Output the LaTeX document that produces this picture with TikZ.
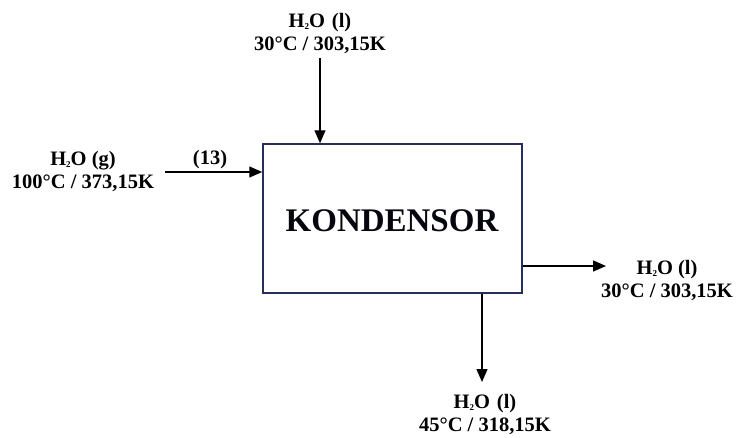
\documentclass[tikz,border=0pt]{standalone}
\usepackage{fontspec}
\setmainfont{Liberation Serif}
\usetikzlibrary{arrows.meta}
\definecolor{boxblue}{RGB}{40,45,95}
\newcommand{\hto}{H\raisebox{-2pt}{\fontsize{9}{9}\selectfont 2}O}
\tikzset{
  lbl/.style={anchor=base, inner sep=0pt, font=\fontsize{20.5}{23}\selectfont\bfseries},
  arr/.style={line width=1.4pt, -{Triangle[length=13pt,width=11pt]}},
  unitbox/.style={draw=boxblue, line width=1.5pt, minimum width=259pt, minimum height=149pt, inner sep=0pt},
}
\begin{document}
\begin{tikzpicture}[x=1pt,y=-1pt]
\useasboundingbox (0,0) rectangle (736,437);
\node[unitbox] (box) at (392.5,218.5) {};
\node[anchor=base, inner sep=0pt, font=\fontsize{33}{36}\selectfont\bfseries, text=black!85!boxblue] (kname) at (392,231) {KONDENSOR};
% top input
\node[lbl] (t1) at (320,27) {\hto\,\,(l)};
\node[lbl] (t2) at (320,50) {30°C / 303,15K};
\coordinate (tin) at (320,58);
\draw[arr] (tin) -- (tin |- box.north);
% left input
\node[lbl] (l1) at (83,165) {\hto\ (g)};
\node[lbl] (l2) at (83,188) {100°C / 373,15K};
\node[lbl] (l3) at (210,164) {(13)};
\coordinate (lin) at (165,172);
\draw[arr] (lin) -- (lin -| box.west);
% right output
\coordinate (rout) at (606,266);
\draw[arr] (rout -| box.east) -- (rout);
\node[lbl] (r1) at (667,274) {\hto\ (l)};
\node[lbl] (r2) at (667,297) {30°C / 303,15K};
% bottom output
\coordinate (bout) at (482,382);
\draw[arr] (bout |- box.south) -- (bout);
\node[lbl] (b1) at (485,408) {\hto\,\,(l)};
\node[lbl] (b2) at (485,431) {45°C / 318,15K};
\end{tikzpicture}
\end{document}
